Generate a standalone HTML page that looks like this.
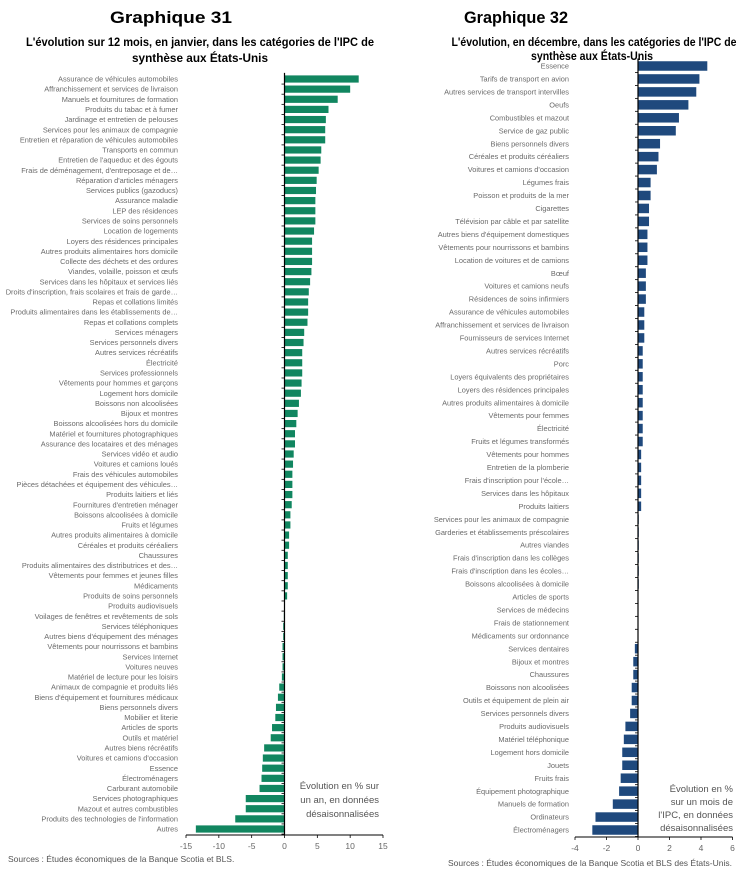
<!DOCTYPE html>
<html><head><meta charset="utf-8"><style>
body{margin:0;background:#fff;}
svg{display:block;font-family:"Liberation Sans",sans-serif;}
.lbl{font-size:7.4px;fill:#6a6a6a;}
.tk{font-size:8.5px;fill:#666;}
</style></head><body>
<svg id="s" width="743" height="879">
<text x="171" y="23" text-anchor="middle" font-size="17" font-weight="bold" textLength="122" lengthAdjust="spacingAndGlyphs">Graphique 31</text>
<text x="200" y="46" text-anchor="middle" font-size="12" font-weight="bold" textLength="348" lengthAdjust="spacingAndGlyphs">L'évolution sur 12 mois, en janvier, dans les catégories de l'IPC de</text>
<text x="200" y="62" text-anchor="middle" font-size="12" font-weight="bold" textLength="136" lengthAdjust="spacingAndGlyphs">synthèse aux États-Unis</text>
<text x="516" y="23" text-anchor="middle" font-size="17" font-weight="bold" textLength="104" lengthAdjust="spacingAndGlyphs">Graphique 32</text>
<text x="594" y="46" text-anchor="middle" font-size="12" font-weight="bold" textLength="285" lengthAdjust="spacingAndGlyphs">L'évolution, en décembre, dans les catégories de l'IPC de</text>
<text x="592" y="60" text-anchor="middle" font-size="12" font-weight="bold" textLength="122" lengthAdjust="spacingAndGlyphs">synthèse aux États-Unis</text>
<g id="c1"></g><g id="c2"></g>
<text x="8" y="862" font-size="8.5" fill="#555">Sources : Études économiques de la Banque Scotia et BLS.</text>
<text x="448" y="866" font-size="8.5" fill="#555">Sources : Études économiques de la Banque Scotia et BLS des États-Unis.</text>
<g font-size="9.5" fill="#555" text-anchor="end"><text x="379" y="789">Évolution en % sur</text><text x="379" y="803">un an, en données</text><text x="379" y="817">désaisonnalisées</text></g>
<g font-size="9.5" fill="#555" text-anchor="end"><text x="733" y="792">Évolution en %</text><text x="733" y="805">sur un mois de</text><text x="733" y="818">l'IPC, en données</text><text x="733" y="831">désaisonnalisées</text></g>
</svg>
<script>
const cats1=["Assurance de véhicules automobiles","Affranchissement et services de livraison","Manuels et fournitures de formation","Produits du tabac et à fumer","Jardinage et entretien de pelouses","Services pour les animaux de compagnie","Entretien et réparation de véhicules automobiles","Transports en commun","Entretien de l'aqueduc et des égouts","Frais de déménagement, d'entreposage et de…","Réparation d'articles ménagers","Services publics (gazoducs)","Assurance maladie","LEP des résidences","Services de soins personnels","Location de logements","Loyers des résidences principales","Autres produits alimentaires hors domicile","Collecte des déchets et des ordures","Viandes, volaille, poisson et œufs","Services dans les hôpitaux et services liés","Droits d'inscription, frais scolaires et frais de garde…","Repas et collations limités","Produits alimentaires dans les établissements de…","Repas et collations complets","Services ménagers","Services personnels divers","Autres services récréatifs","Électricité","Services professionnels","Vêtements pour hommes et garçons","Logement hors domicile","Boissons non alcoolisées","Bijoux et montres","Boissons alcoolisées hors du domicile","Matériel et fournitures photographiques","Assurance des locataires et des ménages","Services vidéo et audio","Voitures et camions loués","Frais des véhicules automobiles","Pièces détachées et équipement des véhicules…","Produits laitiers et liés","Fournitures d'entretien ménager","Boissons alcoolisées à domicile","Fruits et légumes","Autres produits alimentaires à domicile","Céréales et produits céréaliers","Chaussures","Produits alimentaires des distributrices et des…","Vêtements pour femmes et jeunes filles","Médicaments","Produits de soins personnels","Produits audiovisuels","Voilages de fenêtres et revêtements de sols","Services téléphoniques","Autres biens d'équipement des ménages","Vêtements pour nourrissons et bambins","Services Internet","Voitures neuves","Matériel de lecture pour les loisirs","Animaux de compagnie et produits liés","Biens d'équipement et fournitures médicaux","Biens personnels divers","Mobilier et literie","Articles de sports","Outils et matériel","Autres biens récréatifs","Voitures et camions d'occasion","Essence","Électroménagers","Carburant automobile","Services photographiques","Mazout et autres combustibles","Produits des technologies de l'information","Autres"];
const vals1=[11.3,10.0,8.1,6.7,6.3,6.2,6.2,5.6,5.5,5.2,4.9,4.8,4.7,4.7,4.7,4.5,4.2,4.2,4.2,4.1,3.9,3.7,3.6,3.6,3.5,3.0,2.9,2.7,2.7,2.7,2.6,2.5,2.2,2.0,1.8,1.6,1.6,1.4,1.3,1.2,1.2,1.2,1.1,0.9,0.9,0.7,0.7,0.5,0.5,0.5,0.5,0.4,0.05,-0.1,-0.2,-0.2,-0.3,-0.3,-0.3,-0.4,-0.8,-1.0,-1.3,-1.4,-1.9,-2.1,-3.1,-3.3,-3.4,-3.5,-3.8,-5.9,-5.9,-7.5,-13.5];
const ticks1=[-15,-10,-5,0,5,10,15];
const cats2=["Essence","Tarifs de transport en avion","Autres services de transport intervilles","Oeufs","Combustibles et mazout","Service de gaz public","Biens personnels divers","Céréales et produits céréaliers","Voitures et camions d'occasion","Légumes frais","Poisson et produits de la mer","Cigarettes","Télévision par câble et par satellite","Autres biens d'équipement domestiques","Vêtements pour nourrissons et bambins","Location de voitures et de camions","Bœuf","Voitures et camions neufs","Résidences de soins infirmiers","Assurance de véhicules automobiles","Affranchissement et services de livraison","Fournisseurs de services Internet","Autres services récréatifs","Porc","Loyers équivalents des propriétaires","Loyers des résidences principales","Autres produits alimentaires à domicile","Vêtements pour femmes","Électricité","Fruits et légumes transformés","Vêtements pour hommes","Entretien de la plomberie","Frais d'inscription pour l'école…","Services dans les hôpitaux","Produits laitiers","Services pour les animaux de compagnie","Garderies et établissements préscolaires","Autres viandes","Frais d'inscription dans les collèges","Frais d'inscription dans les écoles…","Boissons alcoolisées à domicile","Articles de sports","Services de médecins","Frais de stationnement","Médicaments sur ordonnance","Services dentaires","Bijoux et montres","Chaussures","Boissons non alcoolisées","Outils et équipement de plein air","Services personnels divers","Produits audiovisuels","Matériel téléphonique","Logement hors domicile","Jouets","Fruits frais","Équipement photographique","Manuels de formation","Ordinateurs","Électroménagers"];
const vals2=[4.4,3.9,3.7,3.2,2.6,2.4,1.4,1.3,1.2,0.8,0.8,0.7,0.7,0.6,0.6,0.6,0.5,0.5,0.5,0.4,0.4,0.4,0.3,0.3,0.3,0.3,0.3,0.3,0.3,0.3,0.2,0.2,0.2,0.2,0.2,0.05,0.05,0.05,0.05,0.05,0.05,0,0,0,0,-0.2,-0.3,-0.3,-0.4,-0.4,-0.5,-0.8,-0.9,-1.0,-1.0,-1.1,-1.2,-1.6,-2.7,-2.9];
const ticks2=[-4,-2,0,2,4,6];
const NS="http://www.w3.org/2000/svg";
function mk(p,t,a){const e=document.createElementNS(NS,t);for(const k in a)e.setAttribute(k,a[k]);p.appendChild(e);return e;}
function draw(g,cats,vals,ticks,o){
  const x=v=>o.x0+(v-ticks[0])*(o.x1-o.x0)/(ticks[ticks.length-1]-ticks[0]);
  const step=(o.yl-o.yf)/(cats.length-1);
  const y=i=>o.yf+i*step;
  cats.forEach((c,i)=>{
    const t=mk(g,"text",{x:o.lx,y:y(i)+2.6,"text-anchor":"end",class:"lbl","font-size":o.fs});
    t.textContent=c;
    
    
    const v=vals[i],a=x(Math.min(0,v)),b=x(Math.max(0,v));
    const r=mk(g,"rect",{x:a,y:y(i)-o.bh/2,width:Math.max(b-a,0.3),height:o.bh,fill:o.col});
    
    
    mk(g,"line",{x1:x(0)-3,x2:x(0),y1:y(i)+step/2,y2:y(i)+step/2,stroke:"#000","stroke-width":0.8});
  });
  const z=mk(g,"line",{x1:x(0),x2:x(0),y1:o.yf-step/2-1,y2:o.ax,stroke:"#000","stroke-width":1.2});
  
  
  const xa=mk(g,"line",{x1:o.x0,x2:o.x1,y1:o.ax,y2:o.ax,stroke:"#000","stroke-width":1});
  
  
  ticks.forEach(t=>{
    mk(g,"line",{x1:x(t),x2:x(t),y1:o.ax,y2:o.ax+3,stroke:"#000","stroke-width":0.8});
    const tt=mk(g,"text",{x:x(t),y:o.ax+14,"text-anchor":"middle",class:"tk"});
    tt.textContent=t;
    
    
  });
}
draw(document.getElementById('c1'),cats1,vals1,ticks1,{x0:186,x1:383,yf:79,yl:829,ax:835,lx:178,bh:7.2,col:"#118660",fs:7.6});
draw(document.getElementById('c2'),cats2,vals2,ticks2,{x0:575,x1:732.5,yf:66,yl:830,ax:837,lx:569,bh:9.5,col:"#1f497d",fs:7});
</script>
</body></html>
